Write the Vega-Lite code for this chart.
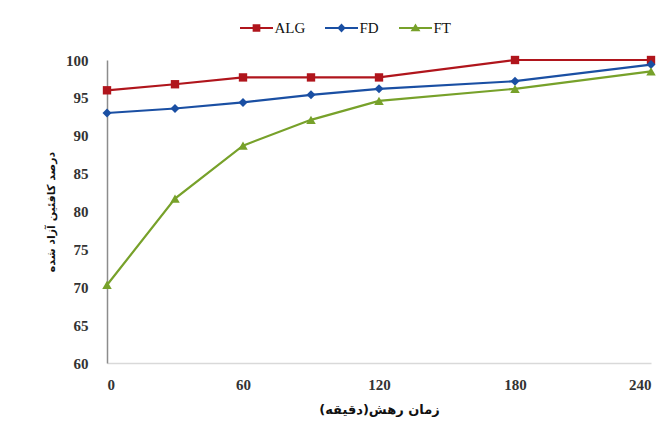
{
  "$schema": "https://vega.github.io/schema/vega-lite/v6.json",
  "width": 544,
  "height": 303,
  "autosize": {"type": "none"},
  "padding": {"left": 107, "top": 60, "right": 15, "bottom": 67},
  "background": "white",
  "config": {
    "view": {"stroke": null},
    "axis": {"labelFont": "Liberation Serif", "labelFontSize": 15, "labelFontWeight": "bold", "labelColor": "#333333", "ticks": false, "grid": false, "titleFont": "DejaVu Sans", "titleFontWeight": "bold", "titleFontSize": 13, "titleColor": "#111111"}
  },
  "data": {"values": [
    {"t": 0, "s": "ALG", "v": 96.0}, {"t": 30, "s": "ALG", "v": 96.8}, {"t": 60, "s": "ALG", "v": 97.7}, {"t": 90, "s": "ALG", "v": 97.7}, {"t": 120, "s": "ALG", "v": 97.7}, {"t": 180, "s": "ALG", "v": 100.0}, {"t": 240, "s": "ALG", "v": 100.0},
    {"t": 0, "s": "FD", "v": 93.0}, {"t": 30, "s": "FD", "v": 93.6}, {"t": 60, "s": "FD", "v": 94.4}, {"t": 90, "s": "FD", "v": 95.4}, {"t": 120, "s": "FD", "v": 96.2}, {"t": 180, "s": "FD", "v": 97.2}, {"t": 240, "s": "FD", "v": 99.4},
    {"t": 0, "s": "FT", "v": 70.3}, {"t": 30, "s": "FT", "v": 81.7}, {"t": 60, "s": "FT", "v": 88.7}, {"t": 90, "s": "FT", "v": 92.1}, {"t": 120, "s": "FT", "v": 94.6}, {"t": 180, "s": "FT", "v": 96.2}, {"t": 240, "s": "FT", "v": 98.5}
  ]},
  "encoding": {
    "x": {"field": "t", "type": "quantitative", "scale": {"domain": [0, 240], "nice": false}, "axis": {"values": [0, 60, 120, 180, 240], "title": "زمان رهش(دقیقه)", "domainColor": "#d9d9d9", "domainWidth": 1.5, "labelPadding": 14, "titlePadding": 11}},
    "y": {"field": "v", "type": "quantitative", "scale": {"domain": [60, 100], "nice": false, "zero": false}, "axis": {"values": [60, 65, 70, 75, 80, 85, 90, 95, 100], "title": "درصد کافئین آزاد شده", "titleFontSize": 11, "domainColor": "#8c8c8c", "domainWidth": 1.5, "labelPadding": 19, "titlePadding": 9}},
    "color": {"field": "s", "type": "nominal", "scale": {"domain": ["ALG", "FD", "FT"], "range": ["#B0151C", "#1A4FA3", "#77A12A"]},
      "legend": {"orient": "none", "legendX": 138.5, "legendY": -43, "direction": "horizontal", "gridAlign": "each", "title": null, "labelFont": "Liberation Serif", "labelFontSize": 15, "labelColor": "#111111", "symbolSize": 484, "symbolStrokeWidth": 0, "labelOffset": 7, "columnPadding": 19,
        "encode": {"symbols": {"update": {"shape": {"signal": "datum.value == 'ALG' ? 'M-1.5,-0.1H-0.35V-0.35H0.35V-0.1H1.5V0.1H0.35V0.35H-0.35V0.1H-1.5Z' : datum.value == 'FD' ? 'M-1.5,-0.1H-0.3L0,-0.4L0.3,-0.1H1.5V0.1H0.3L0,0.4L-0.3,0.1H-1.5Z' : 'M-1.5,-0.1H-0.193L0,-0.4L0.193,-0.1H1.5V0.1H0.321L0.45,0.3H-0.45L-0.321,0.1H-1.5Z'"}, "fillOpacity": {"value": 1}}}}}}
  },
  "layer": [
    {"mark": {"type": "line", "strokeWidth": 2.2}},
    {"transform": [{"filter": "datum.s == 'ALG'"}], "mark": {"type": "point", "shape": "square", "filled": true, "opacity": 1, "size": 70}},
    {"transform": [{"filter": "datum.s == 'FD'"}], "mark": {"type": "point", "shape": "diamond", "filled": true, "opacity": 1, "size": 80}},
    {"transform": [{"filter": "datum.s == 'FT'"}], "mark": {"type": "point", "shape": "triangle-up", "filled": true, "opacity": 1, "size": 90}}
  ]
}
